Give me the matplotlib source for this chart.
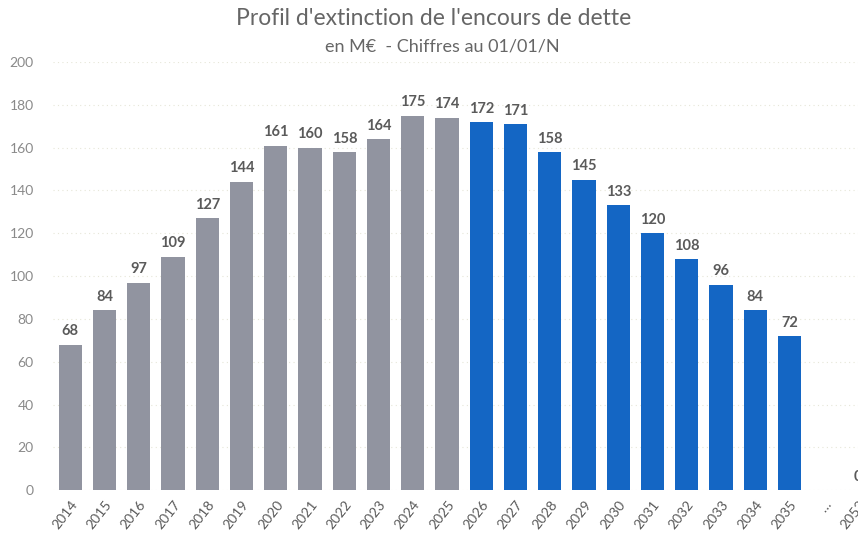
import matplotlib
matplotlib.use("Agg")
import matplotlib.pyplot as plt
import numpy as np

# data
years = [str(y) for y in range(2014, 2036)] + ["…", "2052"]
encours = [68, 84, 97, 109, 127, 144, 161, 160, 158, 164, 175, 174,
           172, 171, 158, 145, 133, 120, 108, 96, 84, 72, None, 0]
first_projected = "2026"

GREY = "#9194a0"
BLUE = "#1466c4"
TXT = "#5a5a5a"

plt.rcParams["font.family"] = ["Lato", "DejaVu Sans"]

fig = plt.figure(figsize=(8.58, 5.44), dpi=100)
ax = fig.add_axes([0.062, 0.099, 0.938, 0.787])

x = np.arange(len(years))
cut = years.index(first_projected)
for i, v in enumerate(encours):
    if v is None:
        continue
    color = GREY if i < cut else BLUE
    ax.bar(x[i], v, width=0.68, color=color, zorder=2)
    ax.text(x[i], v + 3, str(v), ha="center", va="bottom", fontsize=10.5,
            fontweight="bold", color=TXT, zorder=3)

ax.set_xlim(-0.5, 23.0)
ax.set_ylim(0, 200)
ax.set_yticks(range(0, 201, 20))
ax.set_xticks(x)
ax.set_xticklabels(years, rotation=52, ha="right", rotation_mode="anchor",
                   fontsize=10, color=TXT)
ax.tick_params(axis="y", labelsize=10, labelcolor="#8a8a8a", length=0, pad=14)
ax.tick_params(axis="x", length=0, pad=6)
ax.grid(axis="y", color="#e6e6d8", linestyle=(0, (1, 3)), linewidth=0.8, zorder=0)
for s in ax.spines.values():
    s.set_visible(False)

fig.text(0.505, 0.966, "Profil d'extinction de l'encours de dette", ha="center",
         va="center", fontsize=16.5, color="#666666")
fig.text(0.515, 0.915, "en M€  - Chiffres au 01/01/N", ha="center", va="center",
         fontsize=13, color="#666666")

fig.savefig("out.png", dpi=100)
